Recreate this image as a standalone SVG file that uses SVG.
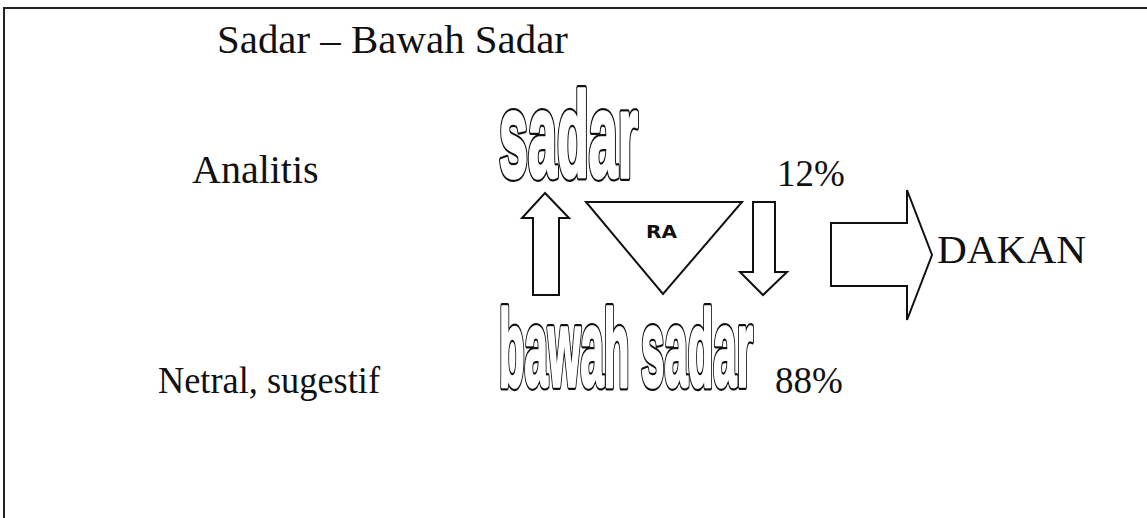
<svg xmlns="http://www.w3.org/2000/svg" width="1147" height="518" viewBox="0 0 1147 518">
<style>
.t{font-family:"Liberation Serif","Times New Roman",serif;fill:#111}
.o{font-family:"Liberation Sans Narrow","Liberation Sans",Arial,sans-serif;font-weight:bold}
.ob{fill:#111;stroke:#111;stroke-width:8;stroke-linejoin:round}
.ow{fill:#fff;stroke:#fff;stroke-width:3.5;stroke-linejoin:round}
.s{fill:#fff;stroke:#111;stroke-width:2;stroke-linejoin:miter}
</style>
<defs>
<text id="tx-sadar" class="o" x="499" y="177" font-size="120" textLength="139" lengthAdjust="spacingAndGlyphs">sadar</text>
<text id="tx-bawah" class="o" x="499" y="386" font-size="110" textLength="254" lengthAdjust="spacingAndGlyphs">bawah sadar</text>
</defs>
<rect width="1147" height="518" fill="#fff"/>
<g id="frame"><path d="M4 518 V8 H1147" fill="none" stroke="#222" stroke-width="2"/></g>
<g id="title"><text class="t" x="217" y="53" font-size="39" textLength="351" lengthAdjust="spacingAndGlyphs">Sadar – Bawah Sadar</text></g>
<g id="analitis"><text class="t" x="192" y="183" font-size="40">Analitis</text></g>
<g id="netral"><text class="t" x="158" y="393" font-size="37" textLength="222" lengthAdjust="spacingAndGlyphs">Netral, sugestif</text></g>
<g id="sadar"><use href="#tx-sadar" class="ob"/><use href="#tx-sadar" class="ow"/></g>
<g id="bawah-sadar"><use href="#tx-bawah" class="ob"/><use href="#tx-bawah" class="ow"/></g>
<g id="pct12"><text class="t" x="777" y="186" font-size="37">12%</text></g>
<g id="pct88"><text class="t" x="775" y="393" font-size="37">88%</text></g>
<g id="ra">
<polygon class="s" points="586,202 742,202 663,294"/>
<text x="646" y="238" font-family="'DejaVu Sans','Liberation Sans',sans-serif" font-weight="bold" font-size="18" textLength="31" lengthAdjust="spacingAndGlyphs" fill="#111">RA</text>
</g>
<g id="tindakan"><text class="t" x="937" y="263" font-size="40" textLength="149" lengthAdjust="spacingAndGlyphs">DAKAN</text></g>
<g id="connectors">
<polygon class="s" points="545,193 569,218 559,218 559,295 533,295 533,218 522,218"/>
<polygon class="s" points="753,202 775,202 775,272 787,272 763,295 740,272 753,272"/>
<polygon class="s" points="831,223 907,223 907,190 932,255 907,320 907,286 831,286"/>
</g>
</svg>
